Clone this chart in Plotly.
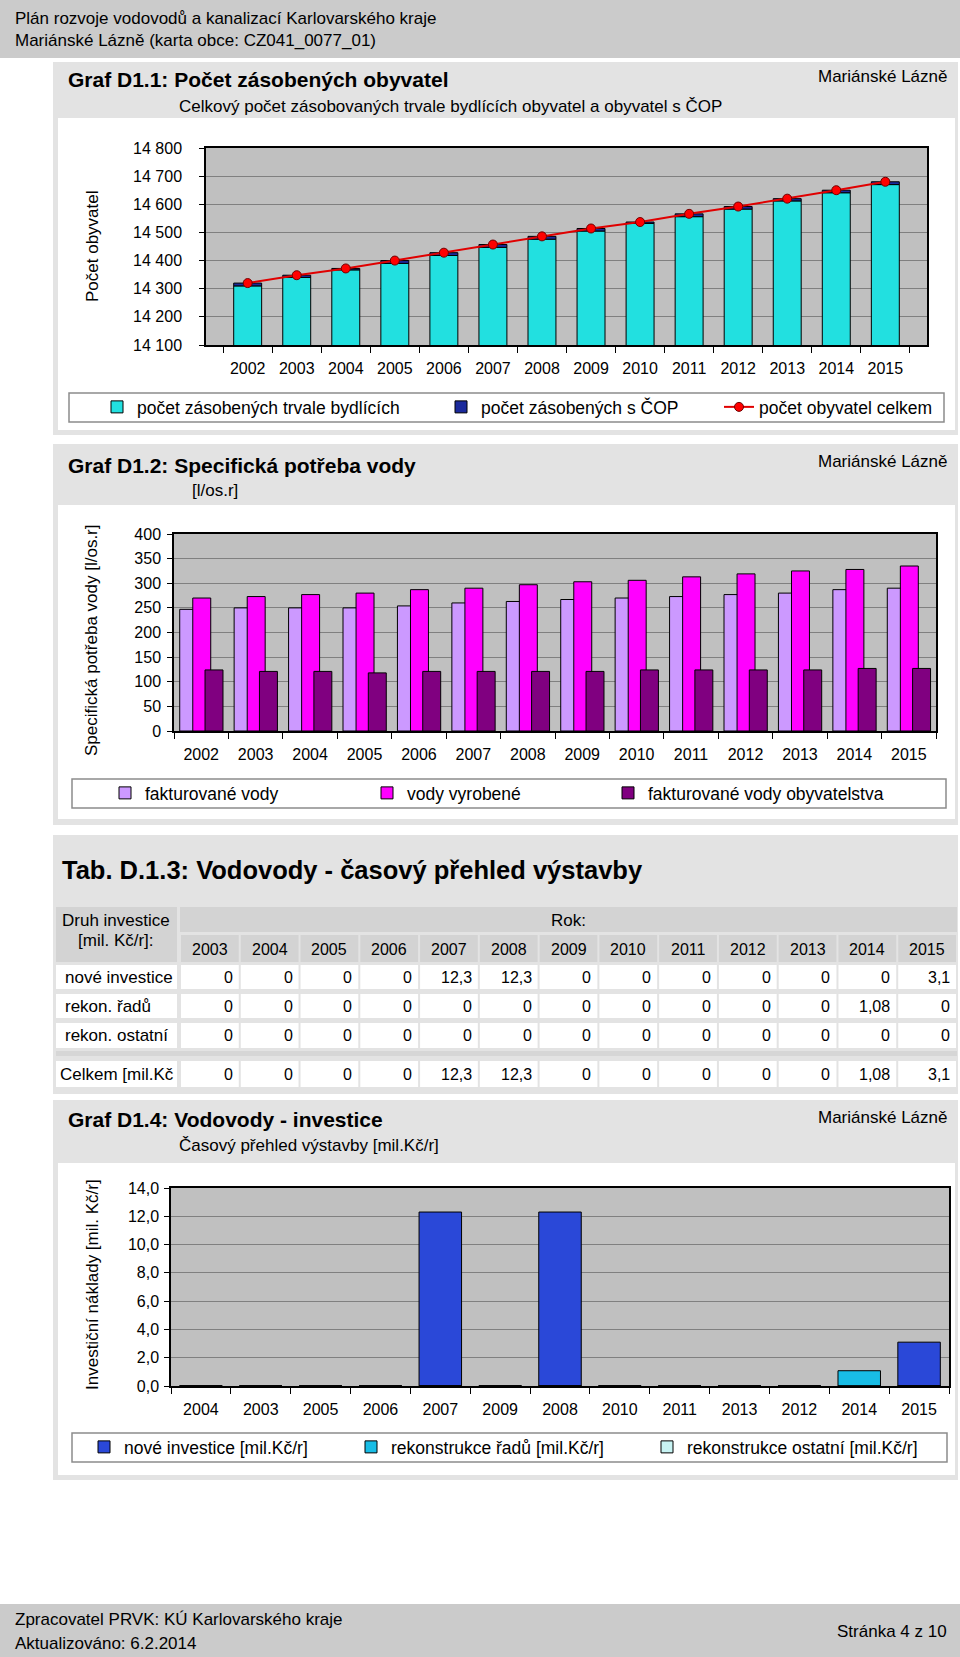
import plotly.graph_objects as go

W, H = 960, 1657
FONT = "Liberation Sans"

# ---- Graf D1.1: Počet zásobených obyvatel
roky = ["2002", "2003", "2004", "2005", "2006", "2007", "2008",
        "2009", "2010", "2011", "2012", "2013", "2014", "2015"]
trvale = [14310, 14340, 14367, 14390, 14418, 14447, 14476,
          14505, 14532, 14556, 14583, 14612, 14641, 14670]
cop = [10, 8, 5, 10, 10, 10, 10, 9, 5, 10, 9, 8, 9, 10]
obyv_celkem = [14320, 14348, 14372, 14400, 14428, 14457, 14486,
               14514, 14537, 14566, 14592, 14620, 14650, 14680]

# ---- Graf D1.2: Specifická potřeba vody [l/os.r]
fakturovane = [247, 250, 250, 250, 254, 260, 263, 267, 270, 273, 277, 280, 287, 290]
vyrobene = [270, 273, 277, 280, 287, 290, 297, 303, 306, 313, 319, 325, 328, 335]
fakt_obyv = [124, 121, 121, 118, 121, 121, 121, 121, 124, 124, 124, 124, 127, 127]

# ---- Tab. D.1.3
tab_roky = ["2003", "2004", "2005", "2006", "2007", "2008", "2009",
            "2010", "2011", "2012", "2013", "2014", "2015"]
tab_nove = [0, 0, 0, 0, 12.3, 12.3, 0, 0, 0, 0, 0, 0, 3.1]
tab_radu = [0, 0, 0, 0, 0, 0, 0, 0, 0, 0, 0, 1.08, 0]
tab_ostatni = [0, 0, 0, 0, 0, 0, 0, 0, 0, 0, 0, 0, 0]
tab_celkem = [0, 0, 0, 0, 12.3, 12.3, 0, 0, 0, 0, 0, 1.08, 3.1]
tab_radky = ["nové investice", "rekon. řadů", "rekon. ostatní"]

# ---- Graf D1.4: Vodovody - investice
inv_roky = ["2004", "2003", "2005", "2006", "2007", "2009", "2008",
            "2010", "2011", "2013", "2012", "2014", "2015"]
inv_nove = [0, 0, 0, 0, 12.3, 0, 12.3, 0, 0, 0, 0, 0, 3.1]
inv_radu = [0, 0, 0, 0, 0, 0, 0, 0, 0, 0, 0, 1.08, 0]
inv_ostatni = [0, 0, 0, 0, 0, 0, 0, 0, 0, 0, 0, 0, 0]


def px(x):
    return x / W


def py(y):
    return 1 - y / H


shapes = []
annots = []


def rect(x0, y0, x1, y1, fill, line=None, lw=0):
    shapes.append(dict(type="rect", xref="paper", yref="paper", layer="below",
                       x0=px(x0), x1=px(x1), y0=py(y1), y1=py(y0),
                       fillcolor=fill, line=dict(color=line or fill, width=lw)))


def txt(x, y, s, size=17, anchor="left", bold=False, angle=0):
    if bold:
        s = "<b>" + s + "</b>"
    annots.append(dict(x=px(x), y=py(y), xref="paper", yref="paper", text=s,
                       showarrow=False, xanchor=anchor, yanchor="middle",
                       textangle=angle,
                       font=dict(family=FONT, size=size, color="black")))


def fmt(v):
    return f"{v:g}".replace(".", ",")


# page bands and panels
rect(0, 0, 960, 58, "#cbcbcb")
rect(0, 1604, 960, 1657, "#cbcbcb")
for y0, y1 in [(62, 435), (444, 825), (835, 1094), (1100, 1480)]:
    rect(53, y0, 958, y1, "#e3e3e3")
for y0, y1 in [(118, 430), (505, 819), (1163, 1475)]:
    rect(58, y0, 955, y1, "white")
# plot areas
rect(206, 148, 927, 345, "#c0c0c0")
rect(174, 534, 936, 731, "#c0c0c0")
rect(171, 1188, 949, 1386, "#c0c0c0")
# legend boxes
for x0, y0, x1, y1 in [(69, 393, 944, 422), (72, 779, 946, 808), (72, 1433, 947, 1462)]:
    rect(x0, y0, x1, y1, "white", "#8c8c8c", 1.5)

# header / footer text
txt(13, 18, "Plán rozvoje vodovodů a kanalizací Karlovarského kraje")
txt(13, 40, "Mariánské Lázně (karta obce: CZ041_0077_01)")
txt(13, 1619, "Zpracovatel PRVK: KÚ Karlovarského kraje")
txt(13, 1643, "Aktualizováno: 6.2.2014")
txt(949, 1631, "Stránka 4 z 10", anchor="right")

# chart titles
txt(66, 79, "Graf D1.1: Počet zásobených obyvatel", size=21, bold=True)
txt(177, 106, "Celkový počet zásobovaných trvale bydlících obyvatel a obyvatel s ČOP")
txt(949, 77, "Mariánské Lázně", anchor="right")
txt(66, 465, "Graf D1.2: Specifická potřeba vody", size=21, bold=True)
txt(190, 490, "[l/os.r]")
txt(949, 462, "Mariánské Lázně", anchor="right")
txt(66, 1119, "Graf D1.4: Vodovody - investice", size=21, bold=True)
txt(177, 1145, "Časový přehled výstavby [mil.Kč/r]")
txt(949, 1117, "Mariánské Lázně", anchor="right")

# y axis titles
txt(92, 246, "Počet obyvatel", angle=-90, anchor="center")
txt(92, 640, "Specifická potřeba vody [l/os.r]", angle=-90, anchor="center")
txt(92, 1285, "Investiční náklady [mil. Kč/r]", angle=-90, anchor="center")

# ---- table
txt(60, 870, "Tab. D.1.3: Vodovody - časový přehled výstavby", size=25.5, bold=True)
HEAD = "#d3d3d3"
lab_x0, lab_x1 = 56, 177
col_x0, col_x1 = 180, 957
cw = (col_x1 - col_x0) / len(tab_roky)
rect(lab_x0, 907, lab_x1, 962, HEAD)
txt(116, 920, "Druh investice", anchor="center")
txt(116, 941, "[mil. Kč/r]:", anchor="center")
rect(col_x0, 907, col_x1, 932, HEAD)
txt((col_x0 + col_x1) / 2, 920, "Rok:", anchor="center")
rows = [(965, 989, tab_radky[0], tab_nove), (994, 1018, tab_radky[1], tab_radu),
        (1023, 1048, tab_radky[2], tab_ostatni), (1061, 1087, "Celkem [mil.Kč", tab_celkem)]
rect(lab_x0, 1051, col_x1, 1056, "#d6d6d6")
for i, r in enumerate(tab_roky):
    cx0 = col_x0 + i * cw + 1
    cx1 = col_x0 + (i + 1) * cw - 1
    rect(cx0, 935, cx1, 962, HEAD)
    txt((cx0 + cx1) / 2, 949, r, size=16, anchor="center")
for y0, y1, lab, vals in rows:
    rect(lab_x0, y0, lab_x1, y1, "white")
    txt(lab_x0 + (2 if lab.startswith("Celkem") else 7), (y0 + y1) / 2, lab)
    for i, v in enumerate(vals):
        cx0 = col_x0 + i * cw + 1
        cx1 = col_x0 + (i + 1) * cw - 1
        rect(cx0, y0, cx1, y1, "white")
        txt(cx1 - 4, (y0 + y1) / 2, fmt(v), size=16, anchor="right")

fig = go.Figure()

# chart 1
fig.add_bar(x=roky, y=trvale, width=0.57, marker=dict(color="#22e0e0", line=dict(color="black", width=1)),
            name="počet zásobených trvale bydlících", xaxis="x", yaxis="y", legend="legend")
fig.add_bar(x=roky, y=cop, base=trvale, width=0.57, marker=dict(color="#1b2a9c", line=dict(color="black", width=1)),
            name="počet zásobených s ČOP", xaxis="x", yaxis="y", legend="legend2")
fig.add_scatter(x=roky, y=obyv_celkem, mode="lines+markers", name="počet obyvatel celkem",
                line=dict(color="#e00000", width=2),
                marker=dict(color="#ff0000", size=9, line=dict(color="#700000", width=1)),
                xaxis="x", yaxis="y", legend="legend3")

# chart 2
for vals, col, off, nm, lg in [(fakturovane, "#cc99ff", -0.395, "fakturované vody", "legend4"),
                               (vyrobene, "#ff00ff", -0.155, "vody vyrobené", "legend5"),
                               (fakt_obyv, "#800080", 0.07, "fakturované vody obyvatelstva", "legend6")]:
    fig.add_bar(x=roky, y=vals, width=0.33, offset=off, name=nm,
                marker=dict(color=col, line=dict(color="black", width=1)),
                xaxis="x2", yaxis="y2", legend=lg)

# chart 4
for vals, col, nm, lg in [(inv_nove, "#2a48d8", "nové investice [mil.Kč/r]", "legend7"),
                          (inv_radu, "#18bde6", "rekonstrukce řadů [mil.Kč/r]", "legend8"),
                          (inv_ostatni, "#c8f4f4", "rekonstrukce ostatní [mil.Kč/r]", "legend9")]:
    fig.add_bar(x=inv_roky, y=vals, width=0.71, name=nm,
                marker=dict(color=col, line=dict(color="black", width=1)),
                xaxis="x3", yaxis="y3", legend=lg)

tickfont = dict(family=FONT, size=16, color="black")


def xax(x0, x1, anchor):
    return dict(domain=[px(x0), px(x1)], anchor=anchor, type="category", tickson="boundaries",
                ticks="outside", ticklen=6, tickcolor="black", showline=True, linecolor="black",
                linewidth=1.5, mirror=True, showgrid=False, tickfont=tickfont,
                ticklabelstandoff=8, fixedrange=True, automargin=False)


def yax(y0, y1, anchor, rng, dtick, tf, standoff):
    return dict(domain=[py(y1), py(y0)], anchor=anchor, range=rng, dtick=dtick, tick0=rng[0],
                tickformat=tf, ticks="outside", ticklen=5, tickcolor="black", showline=True,
                linecolor="black", linewidth=1.5, mirror=True, showgrid=True,
                gridcolor="#808080", gridwidth=1, zeroline=False, tickfont=tickfont,
                ticklabelstandoff=standoff, fixedrange=True, automargin=False)


def leg(x, y):
    return dict(x=px(x - 40), y=py(y), xanchor="left", yanchor="middle", orientation="h",
                bgcolor="rgba(0,0,0,0)", font=dict(family=FONT, size=17.5, color="black"))


fig.update_layout(
    width=W, height=H, margin=dict(l=0, r=0, t=0, b=0, pad=0, autoexpand=False),
    paper_bgcolor="white", plot_bgcolor="rgba(0,0,0,0)",
    separators=", ", barmode="overlay", showlegend=True,
    xaxis=xax(206, 927, "y"),
    yaxis=yax(148, 345, "x", [14100, 14800], 100, ",d", 14),
    xaxis2=xax(174, 936, "y2"),
    yaxis2=yax(534, 731, "x2", [0, 400], 50, "d", 3),
    xaxis3=xax(171, 949, "y3"),
    yaxis3=yax(1188, 1386, "x3", [0, 14], 2, ".1f", 2),
    legend=leg(137, 407), legend2=leg(481, 407), legend3=leg(759, 407),
    legend4=leg(145, 793), legend5=leg(407, 793), legend6=leg(648, 793),
    legend7=leg(124, 1447), legend8=leg(391, 1447), legend9=leg(687, 1447),
    shapes=shapes, annotations=annots,
    font=dict(family=FONT, size=16, color="black"),
)

fig.write_html("out.html", config={"displayModeBar": False},
               post_script="document.body.style.margin='0';document.body.style.overflow='hidden';")
